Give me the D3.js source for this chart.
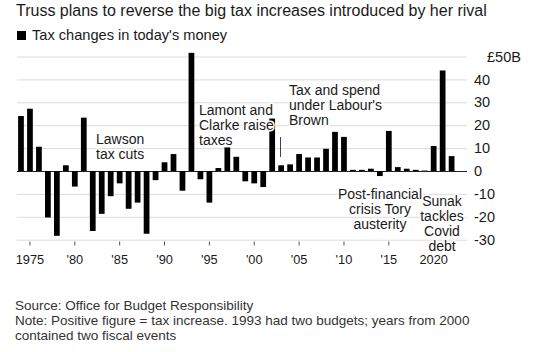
<!DOCTYPE html>
<html>
<head>
<meta charset="utf-8">
<script src="https://cdn.jsdelivr.net/npm/d3@7"></script>
<style>
  body { margin: 0; background: #fff; }
  svg { display: block; font-family: "Liberation Sans", Arial, sans-serif; }
  .halo { paint-order: stroke; stroke: #fff; stroke-width: 3px; stroke-linejoin: round; }
</style>
</head>
<body>
<div id="chart-container"></div>
<script>
// Tax changes in today's money (£B), one bar per year
const years = d3.range(1974, 2023);
const taxChanges = [
  24, 27.2, 10.6, -20.3, -28.3, 2.5, -6.8, 23.3, -26.2, -18.7,
  -11, -5.4, -16.5, -13.8, -27.4, -4, 3.8, 7.4, -8.6, 51.6,
  -3.6, -13.8, 1.3, 10.3, 6.2, -4.5, -5.4, -7, 22.9, 2.5,
  2.9, 7.4, 5.9, 5.9, 9.7, 17.1, 14.9, 0.5, 0.5, 1,
  -2.2, 17.5, 1.7, 1, 0.5, 0.2, 10.9, 43.9, 6.5
];
const xTickYears = [1975, 1980, 1985, 1990, 1995, 2000, 2005, 2010, 2015, 2020];
const xTickLabels = ['1975', "'80", "'85", "'90", "'95", "'00", "'05", "'10", "'15", '2020'];
const yTicks = [-30, -20, -10, 0, 10, 20, 30, 40, 50];

// annotations
const notes = [
  { lines: ['Lawson', 'tax cuts'], x: 96, y: 144, anchor: 'start' },
  { lines: ['Lamont and', 'Clarke raise', 'taxes'], x: 199, y: 115, anchor: 'start' },
  { lines: ['Tax and spend', "under Labour's", 'Brown'], x: 289, y: 94.5, anchor: 'start' },
  { lines: ['Post-financial', 'crisis Tory', 'austerity'], x: 380, y: 199, anchor: 'middle' },
  { lines: ['Sunak', 'tackles', 'Covid', 'debt'], x: 442, y: 205.5, anchor: 'middle' }
];

const data = years.map((year, i) => ({ year, value: taxChanges[i] }));

const width = 541;
const height = 352;

const svg = d3.select('#chart-container')
  .append('svg')
  .attr('width', width)
  .attr('height', height);

// Scales
const xScale = d3.scaleBand()
  .domain(years)
  .range([16.5, 456.1])
  .paddingInner(0.36)
  .paddingOuter(0.18);

const yScale = d3.scaleLinear()
  .domain([-30, 50])
  .range([239.7, 56.5]);

// Title
svg.append('text')
  .attr('x', 16)
  .attr('y', 16)
  .attr('font-size', '16px')
  .attr('fill', '#1a1a1a')
  .text('Truss plans to reverse the big tax increases introduced by her rival');

// Legend
svg.append('rect')
  .attr('x', 17)
  .attr('y', 31)
  .attr('width', 9)
  .attr('height', 9)
  .attr('fill', '#000');

svg.append('text')
  .attr('x', 32)
  .attr('y', 39.5)
  .attr('font-size', '14.6px')
  .attr('fill', '#1a1a1a')
  .text("Tax changes in today's money");

// Y axis with gridlines (labels on the right)
const yAxis = svg.append('g')
  .attr('transform', 'translate(467, 0)')
  .call(d3.axisRight(yScale)
    .tickValues(yTicks)
    .tickSize(-450)
    .tickPadding(7)
    .tickFormat(d => d === 50 ? '£50B' : String(d)));

yAxis.select('.domain').remove();
yAxis.selectAll('line')
  .attr('stroke', d => d === 0 ? '#222' : '#dcdcdc')
  .attr('stroke-width', 1);
yAxis.selectAll('text')
  .attr('font-size', '14.5px')
  .attr('fill', '#1a1a1a')
  .attr('font-family', '"Liberation Sans", Arial, sans-serif');
// top label sits a little further right in the original
yAxis.selectAll('text')
  .filter(d => d === 50)
  .attr('x', 20);

// X axis
const xAxis = svg.append('g')
  .attr('transform', 'translate(0, 241.5)')
  .call(d3.axisBottom(xScale)
    .tickValues(xTickYears)
    .tickSize(4)
    .tickPadding(9.5)
    .tickFormat((d, i) => xTickLabels[i]));

xAxis.select('.domain').remove();
xAxis.selectAll('line').attr('stroke', '#555');
xAxis.selectAll('text')
  .attr('font-size', '12.8px')
  .attr('fill', '#1a1a1a')
  .attr('font-family', '"Liberation Sans", Arial, sans-serif');

// Bars
svg.selectAll('.bar')
  .data(data)
  .enter()
  .append('rect')
  .attr('class', 'bar')
  .attr('x', d => xScale(d.year))
  .attr('width', xScale.bandwidth())
  .attr('y', d => yScale(Math.max(0, d.value)))
  .attr('height', d => Math.abs(yScale(d.value) - yScale(0)))
  .attr('fill', '#000');

// Leader line for Brown annotation
svg.append('line')
  .attr('x1', 280.5)
  .attr('x2', 280.5)
  .attr('y1', 137)
  .attr('y2', 157)
  .attr('stroke', '#444')
  .attr('stroke-width', 1);

// Annotation text
notes.forEach(n => {
  const t = svg.append('text')
    .attr('class', 'halo')
    .attr('x', n.x)
    .attr('y', n.y)
    .attr('text-anchor', n.anchor)
    .attr('font-size', '14px')
    .attr('fill', '#1a1a1a');
  n.lines.forEach((line, i) => {
    t.append('tspan')
      .attr('x', n.x)
      .attr('dy', i === 0 ? 0 : 15)
      .text(line);
  });
});

// Footer
const footer = [
  'Source: Office for Budget Responsibility',
  'Note: Positive figure = tax increase. 1993 had two budgets; years from 2000',
  'contained two fiscal events'
];
svg.append('g')
  .selectAll('text')
  .data(footer)
  .enter()
  .append('text')
  .attr('x', 15)
  .attr('y', (d, i) => 310 + i * 14.8)
  .attr('font-size', '13.5px')
  .attr('fill', '#333')
  .text(d => d);
</script>
</body>
</html>
